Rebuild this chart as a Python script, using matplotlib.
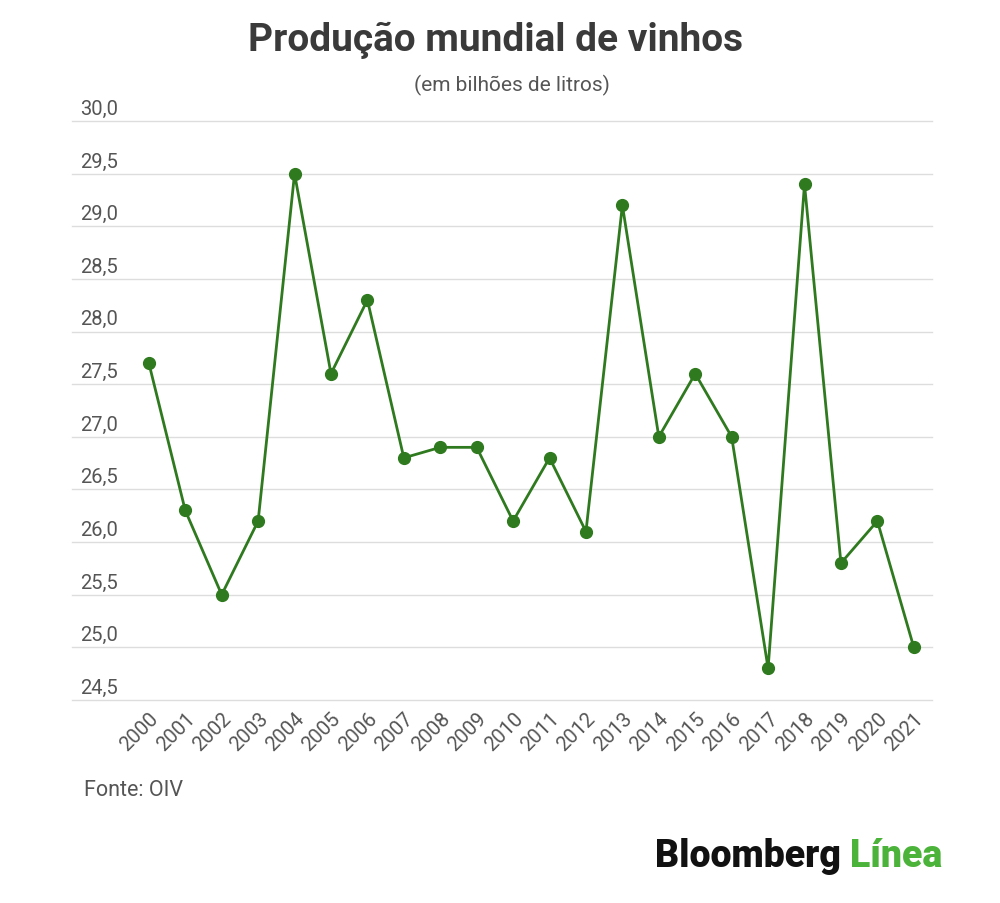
import matplotlib.pyplot as plt
import matplotlib.transforms as mtransforms

# Data
years = list(range(2000, 2022))
production = [27.7, 26.3, 25.5, 26.2, 29.5, 27.6, 28.3, 26.8, 26.9, 26.9, 26.2,
              26.8, 26.1, 29.2, 27.0, 27.6, 27.0, 24.8, 29.4, 25.8, 26.2, 25.0]
y_ticks = [24.5, 25.0, 25.5, 26.0, 26.5, 27.0, 27.5, 28.0, 28.5, 29.0, 29.5, 30.0]

plt.rcParams['font.family'] = ['Roboto', 'DejaVu Sans']

green = '#2f7a1f'
fig = plt.figure(figsize=(10, 9.04), dpi=100)
ax = fig.add_axes([0.072, 0.2246, 0.86, 0.6404])

ax.plot(years, production, color=green, lw=2, marker='o', ms=8.5,
        markerfacecolor=green, markeredgecolor=green, zorder=3)

ax.set_ylim(24.5, 30.0)
ax.set_xlim(1997.89, 2021.5)
ax.set_yticks(y_ticks)
ax.set_yticklabels([])
ax.tick_params(axis='both', length=0)
for spine in ax.spines.values():
    spine.set_visible(False)

# gridlines, not clipped so the bottom one shows, labels sit above them
trans = mtransforms.blended_transform_factory(ax.transAxes, ax.transData)
for t in y_ticks:
    ax.axhline(t, color='#dddddd', lw=1, clip_on=False, zorder=1)
    ax.text(0.009, t + 0.03, '{:.1f}'.format(t).replace('.', ','), transform=trans,
            ha='left', va='bottom', fontsize=14.5, color='#555555')

ax.set_xticks(years)
ax.set_xticklabels([str(y) for y in years], rotation=45, ha='right',
                   rotation_mode='anchor', fontsize=14.5, color='#555555')
ax.tick_params(axis='x', pad=6)

fig.text(0.496, 0.955, 'Produção mundial de vinhos', ha='center', va='center',
         fontsize=28, fontweight='bold', color='#3a3a3a')
fig.text(0.512, 0.906, '(em bilhões de litros)', ha='center', va='center',
         fontsize=15, color='#555555')
fig.text(0.084, 0.126, 'Fonte: OIV', ha='left', va='center',
         fontsize=15.5, color='#555555')

b = fig.text(0.655, 0.053, 'Bloomberg ', ha='left', va='center',
             fontsize=27, fontweight='black', color='#111111')
fig.canvas.draw()
bb = b.get_window_extent().transformed(fig.transFigure.inverted())
fig.text(bb.x1, 0.053, 'Línea', ha='left', va='center',
         fontsize=27, fontweight='black', color='#4cb33a')

fig.savefig('out.png', dpi=100, facecolor='white')
